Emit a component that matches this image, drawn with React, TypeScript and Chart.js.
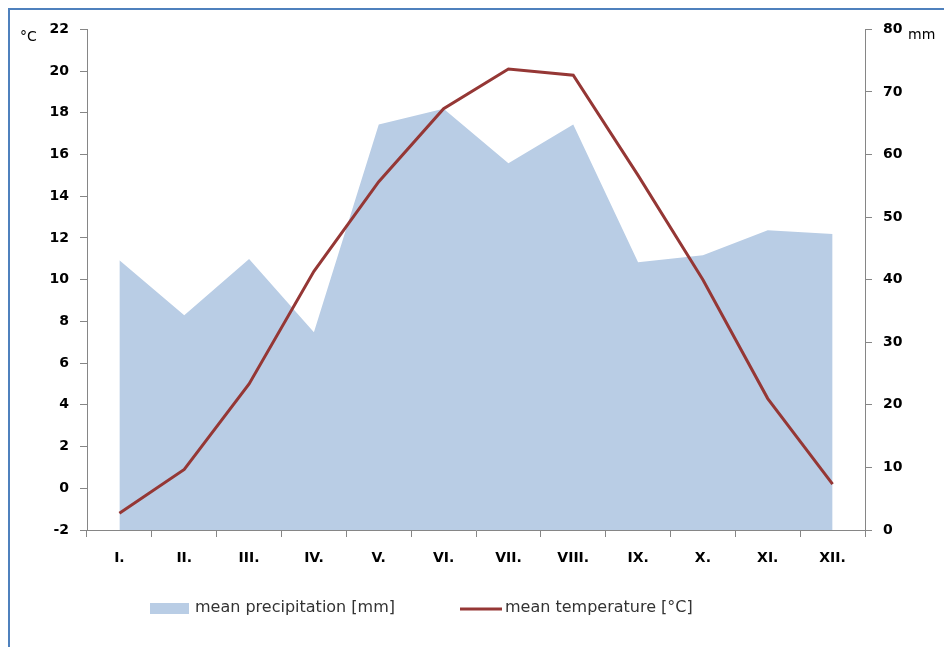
import React, { useEffect, useRef } from "react";
import { Chart, registerables } from "chart.js";

Chart.register(...registerables);

const months = ["I.", "II.", "III.", "IV.", "V.", "VI.", "VII.", "VIII.", "IX.", "X.", "XI.", "XII."];
const precipitation = [43.1, 34.3, 43.3, 31.6, 64.8, 67.3, 58.6, 64.8, 42.8, 43.9, 47.9, 47.3];
const temperature = [-1.2, 0.9, 5.0, 10.4, 14.7, 18.2, 20.1, 19.8, 15.0, 10.0, 4.3, 0.2];
const precipLabel = "mean precipitation [mm]";
const tempLabel = "mean temperature [°C]";
const leftUnit = "°C";
const rightUnit = "mm";

const FONT = '"DejaVu Sans", "Liberation Sans", sans-serif';
const AXIS_COLOR = "#868686";
const PRECIP_COLOR = "#b9cde5";
const TEMP_COLOR = "#953735";

const decorPlugin = {
  id: "decor",
  afterDraw(chart: any) {
    const { ctx, chartArea, scales } = chart;
    const yTop = scales.y.getPixelForValue(22);
    ctx.save();
    ctx.fillStyle = "#000";
    ctx.font = `14px ${FONT}`;
    ctx.textAlign = "left";
    ctx.textBaseline = "alphabetic";
    ctx.fillText(leftUnit, 10, yTop + 12);
    ctx.fillText(rightUnit, chartArea.right + 43, yTop + 10);

    // legend
    ctx.font = `16px ${FONT}`;
    const ly = chartArea.bottom + 78;
    const l1 = chartArea.left + 63;
    ctx.fillStyle = PRECIP_COLOR;
    ctx.fillRect(l1, ly - 5, 39, 11);
    ctx.fillStyle = "#333";
    ctx.textBaseline = "middle";
    ctx.fillText(precipLabel, l1 + 45, ly);

    const l2 = chartArea.left + 373;
    ctx.strokeStyle = TEMP_COLOR;
    ctx.lineWidth = 3;
    ctx.beginPath();
    ctx.moveTo(l2, ly + 1);
    ctx.lineTo(l2 + 42, ly + 1);
    ctx.stroke();
    ctx.fillText(tempLabel, l2 + 45, ly);
    ctx.restore();
  },
};

export default function App() {
  const canvasRef = useRef<HTMLCanvasElement | null>(null);

  useEffect(() => {
    if (!canvasRef.current) return;
    const tickFont = { family: FONT, size: 14, weight: "bold" as const };
    const chart = new Chart(canvasRef.current, {
      type: "line",
      data: {
        labels: months,
        datasets: [
          {
            label: tempLabel,
            data: temperature,
            yAxisID: "y",
            borderColor: TEMP_COLOR,
            borderWidth: 3,
            pointRadius: 0,
            tension: 0,
            fill: false,
            order: 0,
          },
          {
            label: precipLabel,
            data: precipitation,
            yAxisID: "y2",
            borderWidth: 0,
            borderColor: "rgba(0,0,0,0)",
            backgroundColor: PRECIP_COLOR,
            pointRadius: 0,
            tension: 0,
            fill: "origin",
            order: 1,
          },
        ],
      },
      options: {
        responsive: true,
        maintainAspectRatio: false,
        animation: false,
        layout: { padding: { top: 19, left: 0, right: 0, bottom: 0 } },
        plugins: {
          legend: { display: false },
          tooltip: { enabled: false },
        },
        scales: {
          x: {
            offset: true,
            grid: {
              offset: true,
              drawOnChartArea: false,
              drawTicks: true,
              tickLength: 7,
              color: AXIS_COLOR,
            },
            border: { color: AXIS_COLOR },
            ticks: { font: tickFont, color: "#000", padding: 13, maxRotation: 0 },
            afterFit: (s: any) => {
              s.height = 117;
            },
          },
          y: {
            position: "left",
            min: -2,
            max: 22,
            ticks: { stepSize: 2, font: tickFont, color: "#000", padding: 11 },
            grid: { drawOnChartArea: false, tickLength: 7, color: AXIS_COLOR },
            border: { color: AXIS_COLOR },
            afterFit: (s: any) => {
              s.width = 77;
            },
          },
          y2: {
            position: "right",
            min: 0,
            max: 80,
            ticks: { stepSize: 10, font: tickFont, color: "#000", padding: 11 },
            grid: { drawOnChartArea: false, tickLength: 7, color: AXIS_COLOR },
            border: { color: AXIS_COLOR },
            afterFit: (s: any) => {
              s.width = 79;
            },
          },
        },
      },
      plugins: [decorPlugin],
    });
    return () => chart.destroy();
  }, []);

  return (
    <div
      style={{
        position: "fixed",
        left: 8,
        top: 8,
        width: 960,
        height: 660,
        border: "2px solid #4f81bd",
        boxSizing: "border-box",
        background: "#fff",
      }}
    >
      <div style={{ position: "absolute", left: 0, top: 0, width: 934, height: 637 }}>
        <canvas ref={canvasRef} />
      </div>
    </div>
  );
}
